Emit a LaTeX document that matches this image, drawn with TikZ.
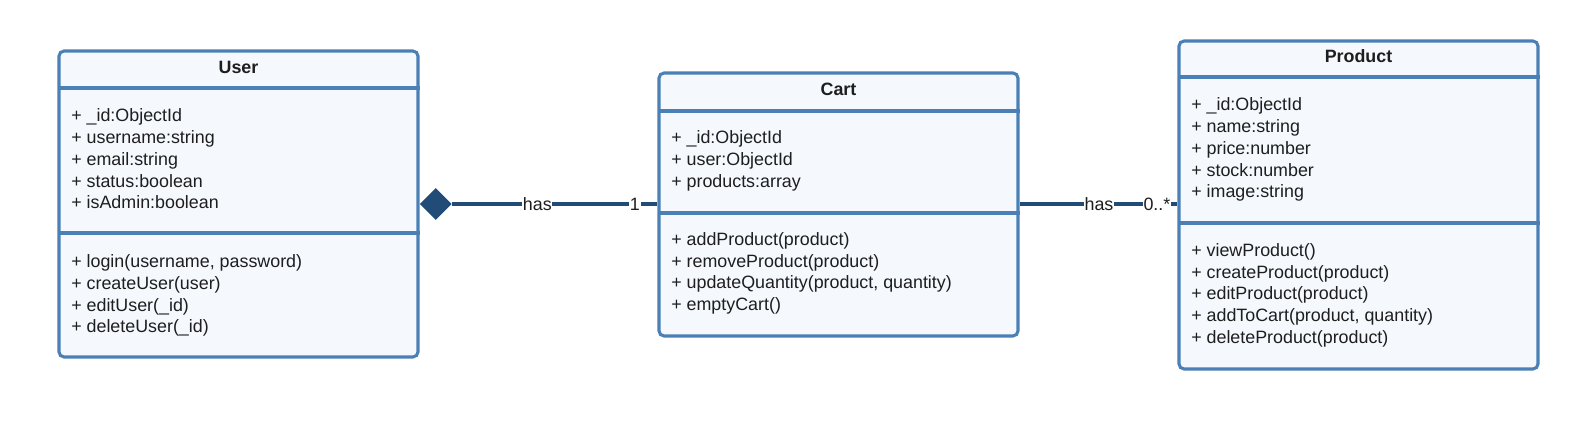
\documentclass[tikz,border=0pt]{standalone}
\usepackage{fontspec}
\setmainfont{Liberation Sans}
\usetikzlibrary{shapes.geometric}
\definecolor{bordercol}{HTML}{4A80B5}
\definecolor{fillcol}{HTML}{F5F9FE}
\definecolor{linkcol}{HTML}{214C77}
\definecolor{textcol}{HTML}{1E1E1E}
\begin{document}
\begin{tikzpicture}[x=0.75pt,y=-0.75pt,
  classbox/.style={draw=bordercol, fill=fillcol, line width=2.3pt, rounded corners=3.8pt, inner sep=0pt, minimum width=269.25pt},
  sepline/.style={draw=bordercol, line width=2.3pt},
  member/.style={anchor=base west, inner sep=0pt, text=textcol, font=\fontsize{13.4pt}{16pt}\selectfont},
  classtitle/.style={anchor=base, inner sep=0pt, text=textcol, font=\bfseries\fontsize{13.4pt}{16pt}\selectfont},
  link/.style={draw=linkcol, line width=2.3pt},
  lbl/.style={fill=white, inner sep=0.6pt, text=textcol, font=\fontsize{13.4pt}{16pt}\selectfont},
]
\useasboundingbox (0,0) rectangle (1579,423);

% ---------- User ----------
\node[classbox, minimum height=229.5pt] (user) at (238.5,204) {};
\coordinate (u1) at (59,88);  \coordinate (u2) at (59,233);
\draw[sepline] (u1) -- (u1 -| user.east);
\draw[sepline] (u2) -- (u2 -| user.east);
\node[classtitle] (user-t) at (238.5,74) {User};
\foreach \t [count=\i from 0] in {+ \_id:ObjectId, + username:string, + email:string, + status:boolean, + isAdmin:boolean}
  \node[member] (user-a\i) at (71,122+21.7*\i) {\t};
\foreach \t [count=\i from 0] in {{+ login(username, password)}, + createUser(user), + editUser(\_id), + deleteUser(\_id)}
  \node[member] (user-m\i) at (71,267.7+21.7*\i) {\t};

% ---------- Cart ----------
\node[classbox, minimum height=197.25pt] (cart) at (838.5,204.5) {};
\coordinate (c1) at (659,111);  \coordinate (c2) at (659,213);
\draw[sepline] (c1) -- (c1 -| cart.east);
\draw[sepline] (c2) -- (c2 -| cart.east);
\node[classtitle] (cart-t) at (838.5,95.7) {Cart};
\foreach \t [count=\i from 0] in {+ \_id:ObjectId, + user:ObjectId, + products:array}
  \node[member] (cart-a\i) at (671,144+21.7*\i) {\t};
\foreach \t [count=\i from 0] in {+ addProduct(product), + removeProduct(product), {+ updateQuantity(product, quantity)}, + emptyCart()}
  \node[member] (cart-m\i) at (671,245.5+21.7*\i) {\t};

% ---------- Product ----------
\node[classbox, minimum height=246pt] (product) at (1358.5,205) {};
\coordinate (p1) at (1179,77);  \coordinate (p2) at (1179,223);
\draw[sepline] (p1) -- (p1 -| product.east);
\draw[sepline] (p2) -- (p2 -| product.east);
\node[classtitle] (product-t) at (1358.5,62.7) {Product};
\foreach \t [count=\i from 0] in {+ \_id:ObjectId, + name:string, + price:number, + stock:number, + image:string}
  \node[member] (product-a\i) at (1191,111+21.7*\i) {\t};
\foreach \t [count=\i from 0] in {+ viewProduct(), + createProduct(product), + editProduct(product), {+ addToCart(product, quantity)}, + deleteProduct(product)}
  \node[member] (product-m\i) at (1191,256.6+21.7*\i) {\t};

% ---------- Connectors ----------
\node[diamond, fill=linkcol, inner sep=0pt, minimum width=24pt, minimum height=24pt, anchor=west] (comp) at (419.5,204) {};
\draw[link] (comp.east) -- (cart.west |- comp.east)
  node[lbl, pos=0.415] (has1) {has}
  node[lbl, pos=0.89] (mult1) {1};
\draw[link] (cart.east |- comp.east) -- (product.west |- comp.east)
  node[lbl, pos=0.503] (has2) {has}
  node[lbl, pos=0.87] (mult2) {0..*};
\end{tikzpicture}
\end{document}
